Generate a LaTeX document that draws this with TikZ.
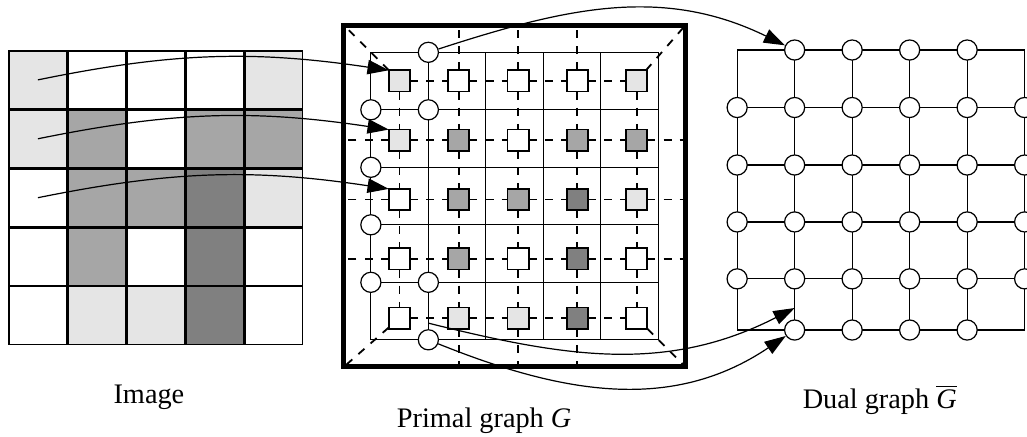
\documentclass[tikz,border=0pt]{standalone}
\usepackage{fontspec}
\setmainfont{Liberation Serif}
\usetikzlibrary{arrows.meta,positioning,matrix}

\colorlet{clite}{black!10}
\colorlet{cmid}{black!35}
\colorlet{cdark}{black!50}

\begin{document}
\begin{tikzpicture}[
  cell/.style={draw, rectangle, minimum size=1cm, inner sep=0pt, outer sep=0pt, line width=0.7pt, fill=white},
  pnode/.style={draw, rectangle, minimum size=0.37cm, inner sep=0pt, outer sep=0pt, line width=0.9pt, fill=white},
  dnode/.style={draw, circle, minimum size=0.35cm, inner sep=0pt, line width=0.6pt, fill=white},
  pxlite/.style={fill=clite},
  pxmid/.style={fill=cmid},
  pxdark/.style={fill=cdark},
  pedge/.style={line width=0.9pt, dash pattern=on 4pt off 4pt},
  dedge/.style={line width=0.6pt},
  map/.style={-{Triangle[length=0.37cm,width=0.25cm]}, line width=0.6pt},
  caption/.style={font=\fontsize{14}{17}\selectfont, anchor=base},
  % cells share their borders, so no gap between them
  pixgrid/.style={matrix of nodes, nodes in empty cells, inner sep=0pt, row sep=0pt, column sep=0pt, nodes={cell}},
  pixgraph/.style={matrix of nodes, nodes in empty cells, inner sep=0pt, row sep=0.63cm, column sep=0.63cm, nodes={pnode}},
]
\useasboundingbox (0,0) rectangle (17.861,7.600);

% Image
\matrix[pixgrid, anchor=north west] (img) at (0.14,6.73) {
  |[pxlite]| & & & & |[pxlite]| \\
  |[pxlite]| & |[pxmid]| & & |[pxmid]| & |[pxmid]| \\
  & |[pxmid]| & |[pxmid]| & |[pxdark]| & |[pxlite]| \\
  & |[pxmid]| & & |[pxdark]| & \\
  & |[pxlite]| & |[pxlite]| & |[pxdark]| & \\
};
\node[caption] (imglbl) at (2.59,0.59) {Image};

% Primal graph: outer frame and the dual lattice inside it
\node[draw, line width=2.4pt, minimum size=5.94cm, inner sep=0pt, outer sep=0pt] (frame) at (8.95,4.19) {};
\foreach \i in {0,...,5}
  \foreach \j in {0,...,5}
    \coordinate (q-\i-\j) at (6.45+\i,1.69+\j);
\foreach \i in {0,...,5} {
  \draw[dedge] (q-\i-0) -- (q-\i-5);
  \draw[dedge] (q-0-\i) -- (q-5-\i);
}

\matrix[pixgraph] (pg) at (9.01,4.13) {
  |[pxlite]| & & & & |[pxlite]| \\
  |[pxlite]| & |[pxmid]| & & |[pxmid]| & |[pxmid]| \\
  & |[pxmid]| & |[pxmid]| & |[pxdark]| & |[pxlite]| \\
  & |[pxmid]| & & |[pxdark]| & \\
  & |[pxlite]| & |[pxlite]| & |[pxdark]| & \\
};

% n-links between neighbouring pixels
\foreach \r in {1,...,5}
  \foreach \c [count=\n from 2] in {1,...,4} {
    \draw[pedge] (pg-\r-\c) -- (pg-\r-\n);
    \draw[pedge] (pg-\c-\r) -- (pg-\n-\r);
  }
% links to the frame
\foreach \c in {2,3,4} {
  \draw[pedge] (pg-1-\c) -- (pg-1-\c |- frame.north);
  \draw[pedge] (pg-5-\c) -- (pg-5-\c |- frame.south);
  \draw[pedge] (pg-\c-1) -- (pg-\c-1 -| frame.west);
  \draw[pedge] (pg-\c-5) -- (pg-\c-5 -| frame.east);
}
\draw[pedge] (pg-1-1) -- (frame.north west);
\draw[pedge] (pg-1-5) -- (frame.north east);
\draw[pedge] (pg-5-1) -- (frame.south west);
\draw[pedge] (pg-5-5) -- (frame.south east);

\foreach \i/\j in {1/5, 0/4, 1/4, 0/3, 0/2, 0/1, 1/1, 1/0}
  \node[dnode] (pv-\i-\j) at (q-\i-\j) {};
\path (q-1-1) -- coordinate[pos=0.71] (pe) (q-1-0);
\node[caption] (plbl) at (8.42,0.16) {Primal graph \textit{G}};

% Dual graph
\foreach \y [count=\r from 0] in {1.86,2.75,3.74,4.73,5.73,6.73}
  \foreach \c in {0,...,5}
    \coordinate (d-\c-\r) at (12.82+\c,\y);
\foreach \k in {0,...,5} {
  \draw[dedge] (d-0-\k) -- (d-5-\k);
  \draw[dedge] (d-\k-0) -- (d-\k-5);
}
\foreach \r in {1,...,4}
  \foreach \c in {0,...,5}
    \node[dnode] (dv-\c-\r) at (d-\c-\r) {};
\foreach \r in {0,5}
  \foreach \c in {1,...,4}
    \node[dnode] (dv-\c-\r) at (d-\c-\r) {};
\path (d-1-1) -- coordinate[pos=0.57] (de) (d-1-0);
\node[caption] (dlbl) at (15.30,0.50) {Dual graph $\overline{\hbox{\itshape G}}$};

% mappings
\draw[map] (img-1-1.center) to[bend left=10] (pg-1-1.north west);
\draw[map] (img-2-1.center) to[bend left=10] (pg-2-1.north west);
\draw[map] (img-3-1.center) to[bend left=10] (pg-3-1.north west);
\draw[map] (pv-1-5) to[out=18,in=154] (dv-1-5);
\draw[map] (pe) to[out=-14,in=207] (de);
\draw[map] (pv-1-0) to[out=-22,in=214] (dv-1-0);

\end{tikzpicture}
\end{document}
